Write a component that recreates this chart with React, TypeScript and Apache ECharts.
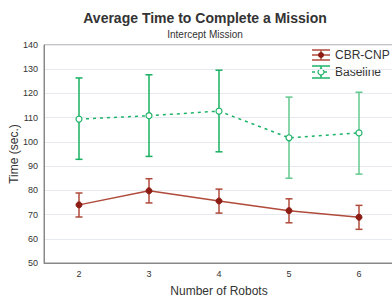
import React, { useEffect, useRef } from "react";
import * as echarts from "echarts";

const categories = ["2", "3", "4", "5", "6"];
const cbrMean = [74, 79.8, 75.6, 71.6, 68.9];
const cbrLow = [69, 74.8, 70.6, 66.6, 63.9];
const cbrHigh = [78.9, 84.8, 80.5, 76.5, 73.8];
const baseMean = [109.4, 110.8, 112.7, 101.7, 103.7];
const baseLow = [92.8, 94.0, 95.9, 85.0, 86.7];
const baseHigh = [126.4, 127.7, 129.6, 118.5, 120.5];
const baseBarColors = ["#18b060", "#18b060", "#18b060", "#62c98e", "#62c98e"];

const RED_LINE = "#b04a3a";
const RED_MARK = "#8c1c14";
const GREEN = "#1db368";

function errorSeries(name: string, low: number[], high: number[], colors: string[]) {
  return {
    type: "custom",
    name,
    z: 1,
    data: low.map((l, i) => [i, l, high[i]]),
    renderItem: (params: any, api: any) => {
      const x = api.value(0);
      const lo = api.coord([x, api.value(1)]);
      const hi = api.coord([x, api.value(2)]);
      const color = colors[params.dataIndex];
      const w = 3.5;
      const style = { stroke: color, lineWidth: 1.5 };
      return {
        type: "group",
        children: [
          { type: "line", shape: { x1: lo[0], y1: lo[1], x2: hi[0], y2: hi[1] }, style },
          { type: "line", shape: { x1: lo[0] - w, y1: lo[1], x2: lo[0] + w, y2: lo[1] }, style },
          { type: "line", shape: { x1: hi[0] - w, y1: hi[1], x2: hi[0] + w, y2: hi[1] }, style },
        ],
      };
    },
  };
}

export default function App() {
  const ref = useRef<HTMLDivElement>(null);
  useEffect(() => {
    const chart = echarts.init(ref.current!, null, { renderer: "svg" });
    const font = "'Liberation Sans', Arial, sans-serif";
    const lx = 312;
    const lw = 18;
    chart.setOption({
      animation: false,
      textStyle: { fontFamily: font },
      title: {
        text: "Average Time to Complete a Mission",
        subtext: "Intercept Mission",
        left: 200,
        textAlign: "center",
        top: 6,
        itemGap: 4,
        textStyle: { fontSize: 14, fontWeight: "bold", color: "#333", fontFamily: font },
        subtextStyle: { fontSize: 10, color: "#333", fontFamily: font },
      },
      grid: {
        left: 44,
        top: 45,
        right: -2,
        bottom: 36,
        outerBoundsMode: "none",
        containLabel: false,
        show: true,
        borderColor: "#888",
        borderWidth: 1,
        backgroundColor: "transparent",
      },
      xAxis: {
        type: "category",
        data: categories,
        boundaryGap: true,
        name: "Number of Robots",
        nameLocation: "middle",
        nameGap: 22,
        nameMoveOverlap: false,
        nameTextStyle: { fontSize: 12, color: "#333", fontFamily: font },
        axisLine: { lineStyle: { color: "#888" } },
        axisTick: { alignWithLabel: true, inside: true, length: 3, lineStyle: { color: "#888" } },
        axisLabel: { fontSize: 9, color: "#333", margin: 6 },
        splitLine: { show: false },
      },
      yAxis: {
        type: "value",
        min: 50,
        max: 140,
        interval: 10,
        name: "Time (sec.)",
        nameLocation: "middle",
        nameGap: 24,
        nameMoveOverlap: false,
        nameTextStyle: { fontSize: 12, color: "#333", fontFamily: font },
        axisLine: { show: true, lineStyle: { color: "#888" } },
        axisTick: { show: false },
        axisLabel: { fontSize: 9, color: "#333", margin: 6 },
        splitLine: { lineStyle: { color: "#e6eaf0", width: 1 } },
      },
      series: [
        errorSeries("cbrErr", cbrLow, cbrHigh, cbrMean.map(() => RED_LINE)),
        errorSeries("baseErr", baseLow, baseHigh, baseBarColors),
        {
          type: "line",
          name: "CBR-CNP",
          data: cbrMean,
          z: 3,
          symbol: "circle",
          symbolSize: 6,
          lineStyle: { color: RED_LINE, width: 1.5 },
          itemStyle: { color: RED_MARK, borderColor: RED_MARK },
        },
        {
          type: "line",
          name: "Baseline",
          data: baseMean,
          z: 3,
          symbol: "circle",
          symbolSize: 6,
          lineStyle: { color: GREEN, width: 1.5, type: [3, 4] },
          itemStyle: { color: "#fff", borderColor: GREEN, borderWidth: 1.2 },
        },
      ],
      graphic: [
        { type: "line", shape: { x1: lx, y1: 55, x2: lx + lw, y2: 55 }, style: { stroke: RED_LINE, lineWidth: 1.5 } },
        { type: "line", shape: { x1: lx, y1: 50, x2: lx + lw, y2: 50 }, style: { stroke: RED_LINE, lineWidth: 1.5 } },
        { type: "line", shape: { x1: lx, y1: 60, x2: lx + lw, y2: 60 }, style: { stroke: RED_LINE, lineWidth: 1.5 } },
        { type: "line", shape: { x1: lx + lw / 2, y1: 50, x2: lx + lw / 2, y2: 60 }, style: { stroke: RED_LINE, lineWidth: 1.5 } },
        { type: "circle", shape: { cx: lx + lw / 2, cy: 55, r: 3 }, style: { fill: RED_MARK } },
        { type: "text", x: 335, y: 55, style: { text: "CBR-CNP", fontSize: 12, fill: "#333", fontFamily: font, verticalAlign: "middle" } },
        { type: "line", shape: { x1: lx, y1: 72, x2: lx + lw, y2: 72 }, style: { stroke: GREEN, lineWidth: 1.5, lineDash: [3, 3] } },
        { type: "line", shape: { x1: lx, y1: 66, x2: lx + lw, y2: 66 }, style: { stroke: GREEN, lineWidth: 1.5 } },
        { type: "line", shape: { x1: lx, y1: 78, x2: lx + lw, y2: 78 }, style: { stroke: GREEN, lineWidth: 1.5 } },
        { type: "line", shape: { x1: lx + lw / 2, y1: 66, x2: lx + lw / 2, y2: 78 }, style: { stroke: GREEN, lineWidth: 1.5 } },
        { type: "circle", shape: { cx: lx + lw / 2, cy: 72, r: 3 }, style: { fill: "#fff", stroke: GREEN, lineWidth: 1.2 } },
        { type: "text", x: 335, y: 72, style: { text: "Baseline", fontSize: 12, fill: "#333", fontFamily: font, verticalAlign: "middle" } },
      ],
    });
    return () => chart.dispose();
  }, []);
  return <div ref={ref} style={{ position: "fixed", left: 0, top: 0, width: 392, height: 299, background: "#fff" }} />;
}
